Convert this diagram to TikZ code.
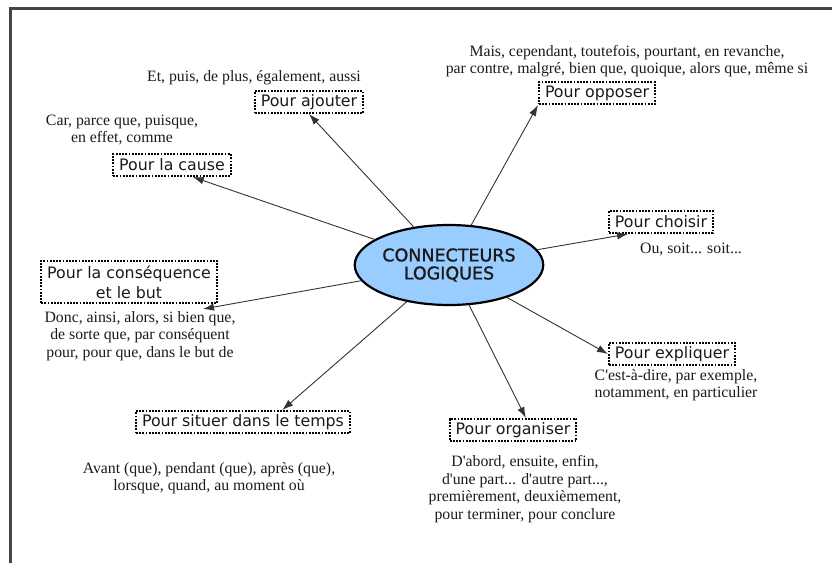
\documentclass[tikz,border=0pt]{standalone}
\usepackage{fontspec}
\setmainfont{Liberation Serif}[Ligatures=TeXOff]
\newfontfamily\boxfont{DejaVu Sans}
\newfontfamily\hubfont[FakeBold=1.2]{DejaVu Sans}
\usepackage{xcolor}
\usepackage{tikz}
\usetikzlibrary{shapes.geometric,arrows.meta}
\definecolor{frame}{HTML}{454545}
\definecolor{hubfill}{HTML}{99CCFF}
\definecolor{ink}{HTML}{1A1A1A}
\definecolor{wire}{HTML}{333333}
\tikzset{
  border/.style={draw=frame, line width=3pt},
  hub/.style={ellipse, draw=black, fill=hubfill, line width=2.2pt, minimum width=156pt, minimum height=80pt, inner sep=0pt, align=center, text=ink, font=\hubfont\fontsize{17.5}{18}\selectfont},
  cat/.style={draw=black, line width=2pt, dash pattern=on 1.8pt off 1.4pt, inner xsep=6pt, inner ysep=3pt, minimum height=22pt, align=center, text=ink, font=\boxfont\fontsize{15.8}{20}\selectfont},
  words/.style={align=center, text=ink, inner sep=0pt, font=\fontsize{15.8}{17.5}\selectfont},
  link/.style={draw=wire, line width=0.9pt, -{Latex[length=11pt,width=7.5pt]}},
}

\begin{document}
\begin{tikzpicture}[x=1pt,y=-1pt]
  \useasboundingbox (0,0) rectangle (832,563);
  \draw[border] (10,563) -- (10,8) -- (832,8);
  \node[hub] (hub) at (449,265) {CONNECTEURS\\LOGIQUES};
  \node[cat] (ajout) at (309,102) {Pour ajouter};
  \node[cat] (cause) at (172,165) {Pour la cause};
  \node[cat, inner ysep=5pt] (cons) at (129,282) {Pour la conséquence\\et le but};
  \node[cat] (temps) at (243,422) {Pour situer dans le temps};
  \node[cat] (oppo) at (597,93) {Pour opposer};
  \node[cat] (choi) at (661,222) {Pour choisir};
  \node[cat] (expl) at (672,354) {Pour expliquer};
  \node[cat] (orga) at (513,430) {Pour organiser};
  % exemples
  \node[words] (ajoutT) at (254,78) {Et, puis, de plus, également, aussi};
  \node[words] (causeT) at (122,130) {Car, parce que, puisque,\\en effet, comme};
  \node[words] (consT) at (140,336) {Donc, ainsi, alors, si bien que,\\de sorte que, par conséquent\\pour, pour que, dans le but de};
  \node[words] (tempsT) at (209,478) {Avant (que), pendant (que), après (que),\\lorsque, quand, au moment où};
  \node[words] (oppoT) at (627,61) {Mais, cependant, toutefois, pourtant, en revanche,\\par contre, malgré, bien que, quoique, alors que, même si};
  \node[words] (choiT) at (691,249) {Ou, soit... soit...};
  \node[words] (explT) at (676,385) {C'est-à-dire, par exemple,\\notamment, en particulier};
  \node[words] (orgaT) at (525,489) {D'abord, ensuite, enfin,\\d'une part... d'autre part...,\\premièrement, deuxièmement,\\pour terminer, pour conclure};
  \coordinate (consTip) at (203,309);
  \draw[link] (hub) -- (ajout.south);
  \draw[link] (hub) -- (cause.-30);
  \draw[link] (hub) -- (oppo.south west);
  \draw[link] (hub) -- (choi.200);
  \draw[link] (hub) -- (consTip);
  \draw[link] (hub) -- (temps.17);
  \draw[link] (hub) -- (expl.west);
  \draw[link] (hub) -- (orga.43);
\end{tikzpicture}
\end{document}
